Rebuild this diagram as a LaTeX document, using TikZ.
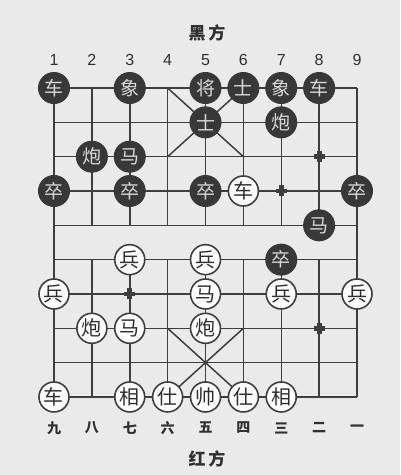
\documentclass[tikz,border=0pt]{standalone}
\usepackage{fontspec}
\setmainfont{Liberation Sans}
\newfontfamily\cjk{Noto Sans CJK SC}
\definecolor{bgc}{HTML}{EAEAEA}
\definecolor{linec}{HTML}{3E3E3E}
\definecolor{blackpc}{HTML}{383838}
\definecolor{bptext}{HTML}{D8D8D8}
\definecolor{rptext}{HTML}{2E2E2E}
\definecolor{labc}{HTML}{303030}
\begin{document}
\begin{tikzpicture}[x=1pt,y=-1pt,
  grid/.style={draw=linec, line width=1.5pt},
  bp/.style={circle, fill=blackpc, draw=blackpc, line width=1pt, minimum size=31pt, inner sep=0pt, text=bptext, font=\cjk\fontsize{19}{19}\selectfont},
  rp/.style={circle, fill=white, draw=linec, line width=1.6pt, minimum size=30pt, inner sep=0pt, text=rptext, font=\cjk\fontsize{20}{20}\selectfont},
  numlab/.style={text=labc, font=\fontsize{16}{16}\selectfont},
  cnlab/.style={text=labc, font=\cjk\bfseries\fontsize{14}{14}\selectfont},
  sidelab/.style={text=labc, font=\cjk\bfseries\fontsize{17}{17}\selectfont},
  posmark/.pic={
    \draw[linec, line width=1.7pt]
      (-5.5,-1.6) -- (-1.6,-1.6) -- (-1.6,-5.5)
      (5.5,-1.6) -- (1.6,-1.6) -- (1.6,-5.5)
      (-5.5,1.6) -- (-1.6,1.6) -- (-1.6,5.5)
      (5.5,1.6) -- (1.6,1.6) -- (1.6,5.5);
  }]
\fill[bgc] (0,0) rectangle (400,475);
\useasboundingbox (0,0) rectangle (400,475);
% grid points
\foreach \i in {1,...,9}{
  \foreach \j in {1,...,10}{
    \coordinate (p\i-\j) at ({54+(\i-1)*37.875},{88+(\j-1)*34.33});
  }
}
% horizontal lines
\foreach \j in {1,...,10}{ \draw[grid] (p1-\j) -- (p9-\j); }
% edge verticals
\draw[grid] (p1-1) -- (p1-10);
\draw[grid] (p9-1) -- (p9-10);
% interior verticals
\foreach \i in {2,...,8}{
  \draw[grid] (p\i-1) -- (p\i-5);
  \draw[grid] (p\i-6) -- (p\i-10);
}
% palaces
\draw[grid] (p4-1) -- (p6-3);
\draw[grid] (p6-1) -- (p4-3);
\draw[grid] (p4-8) -- (p6-10);
\draw[grid] (p6-8) -- (p4-10);
% position marks
\pic at (p8-3) {posmark};
\pic at (p7-4) {posmark};
\pic at (p3-7) {posmark};
\pic at (p8-8) {posmark};
% labels
\node[sidelab] (top) at (207,33) {黑\,方};
\node[sidelab] (bot) at (207,459) {红\,方};
\foreach \i in {1,...,9}{
  \path (p\i-1) ++(0,-28) node[numlab] (n\i) {\i};
}
\foreach \i/\t in {1/九,2/八,3/七,4/六,5/五,6/四,7/三,8/二,9/一}{
  \path (p\i-10) ++(0,31) node[cnlab] (c\i) {\t};
}
% black pieces
\node[bp] (bR1) at (p1-1) {车};
\node[bp] (bE1) at (p3-1) {象};
\node[bp] (bK)  at (p5-1) {将};
\node[bp] (bA1) at (p6-1) {士};
\node[bp] (bE2) at (p7-1) {象};
\node[bp] (bR2) at (p8-1) {车};
\node[bp] (bA2) at (p5-2) {士};
\node[bp] (bC1) at (p7-2) {炮};
\node[bp] (bC2) at (p2-3) {炮};
\node[bp] (bH1) at (p3-3) {马};
\node[bp] (bP1) at (p1-4) {卒};
\node[bp] (bP2) at (p3-4) {卒};
\node[bp] (bP3) at (p5-4) {卒};
\node[bp] (bP4) at (p9-4) {卒};
\node[bp] (bH2) at (p8-5) {马};
\node[bp] (bP5) at (p7-6) {卒};
% red pieces
\node[rp] (rR1) at (p6-4) {车};
\node[rp] (rP1) at (p3-6) {兵};
\node[rp] (rP2) at (p5-6) {兵};
\node[rp] (rP3) at (p1-7) {兵};
\node[rp] (rH1) at (p5-7) {马};
\node[rp] (rP4) at (p7-7) {兵};
\node[rp] (rP5) at (p9-7) {兵};
\node[rp] (rC1) at (p2-8) {炮};
\node[rp] (rH2) at (p3-8) {马};
\node[rp] (rC2) at (p5-8) {炮};
\node[rp] (rR2) at (p1-10) {车};
\node[rp] (rE1) at (p3-10) {相};
\node[rp] (rA1) at (p4-10) {仕};
\node[rp] (rK)  at (p5-10) {帅};
\node[rp] (rA2) at (p6-10) {仕};
\node[rp] (rE2) at (p7-10) {相};
\end{tikzpicture}
\end{document}
